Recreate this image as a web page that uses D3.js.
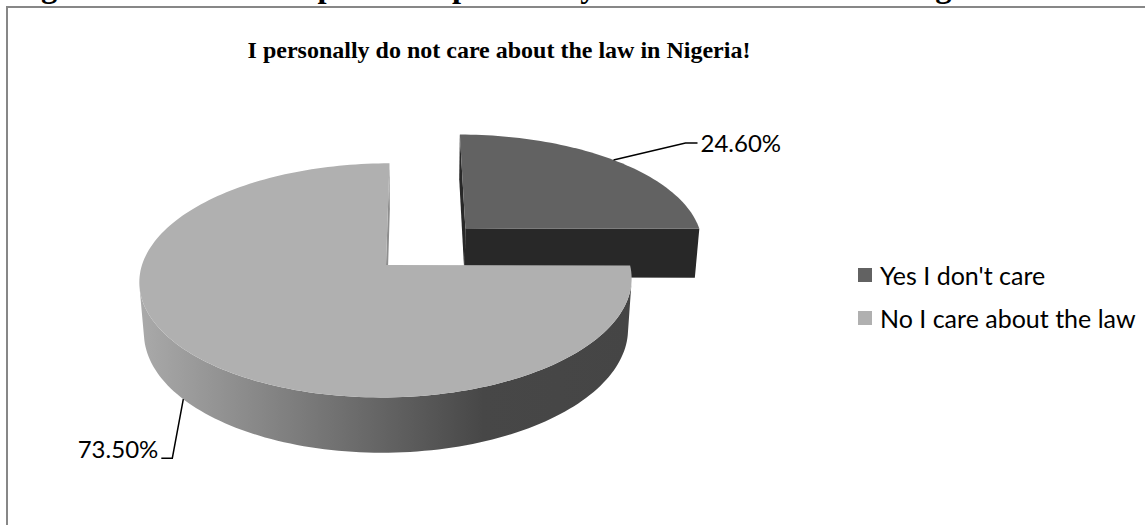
<!DOCTYPE html>
<html>
<head>
<meta charset="utf-8">
<script src="https://cdn.jsdelivr.net/npm/d3@7"></script>
<style>
  html, body { margin: 0; padding: 0; background: #ffffff; }
  svg { display: block; }
</style>
</head>
<body>
<svg id="chart" width="1145" height="525"></svg>
<script>
// ---- data ----
const categories = ["Yes I don't care", "No I care about the law"];
const values = [24.6, 73.5];
const valueLabels = ["24.60%", "73.50%"];
const explodeBy = [115, 0];
const topColors = ["#626262", "#b0b0b0"];
const sideColors = ["#282828", "#8e8e8e"];
const captionText = "Figure 3: Whether respondents personally care about the law in Nigeria";
const titleText = "I personally do not care about the law in Nigeria!";

const W = 1145, H = 525;
const svg = d3.select("#chart");

// ---- 3D view of the pie (perspective projection) ----
const R = 244;          // radius
const T = 58;           // thickness
const sinA = 0.4714, cosA = Math.sqrt(1 - sinA * sinA);
const D = 1637;         // camera distance
const ox = 416, camX = 30, cy0 = 265;

function project(X, Y, Z) {
  const ys = Y * cosA - Z * sinA;
  const zc = Z * cosA + Y * sinA;
  const s = D / (D - zc);
  return [ox + (X - camX) * s, cy0 - ys * s];
}
function facesCamera(X, Y, Z, nX, nY, nZ) {
  const ys = Y * cosA - Z * sinA, zc = Z * cosA + Y * sinA;
  const nys = nY * cosA - nZ * sinA, nzc = nZ * cosA + nY * sinA;
  return nX * (camX - X) + nys * (0 - ys) + nzc * (D - zc) > 0;
}

const arcs = d3.pie().sort(null).value(d => d)(values);
const slices = arcs.map((a, i) => {
  const mid = (a.startAngle + a.endAngle) / 2;
  return {
    i, a0: a.startAngle, a1: a.endAngle, mid,
    dx: explodeBy[i] * Math.sin(mid),
    dz: -explodeBy[i] * Math.cos(mid)
  };
});
function pt(s, r, th, Y) {
  return project(s.dx + r * Math.sin(th), Y, s.dz - r * Math.cos(th));
}
const line = d3.line();

// gradient for the curved wall of the large slice
const defs = svg.append("defs");
const xl = project(-R, 0, 0)[0], xr = project(R, 0, 0)[0];
const grad = defs.append("linearGradient")
  .attr("id", "wallGrad").attr("gradientUnits", "userSpaceOnUse")
  .attr("x1", xl).attr("x2", xr).attr("y1", 0).attr("y2", 0);
grad.append("stop").attr("offset", 0).attr("stop-color", "#a9a9a9");
grad.append("stop").attr("offset", 0.7).attr("stop-color", "#474747");
grad.append("stop").attr("offset", 1).attr("stop-color", "#454545");
const wallFill = ["#2a2a2a", "url(#wallGrad)"];

// frame
svg.append("rect")
  .attr("x", 7).attr("y", 7).attr("width", W + 10).attr("height", H + 10)
  .attr("fill", "none").attr("stroke", "#878787").attr("stroke-width", 2);

// caption line of the page above the chart
svg.append("text")
  .attr("x", 12).attr("y", -3)
  .attr("font-family", "'Liberation Serif', 'Times New Roman', serif")
  .attr("font-weight", "bold").attr("font-size", 32.5).attr("fill", "#000")
  .text(captionText);

// chart title
svg.append("text")
  .attr("x", 499).attr("y", 58).attr("text-anchor", "middle")
  .attr("font-family", "'Liberation Serif', 'Times New Roman', serif")
  .attr("font-weight", "bold").attr("font-size", 24).attr("fill", "#000")
  .text(titleText);

const pieG = svg.append("g");
const order = slices.slice().sort((a, b) => a.dz - b.dz);
const N = 240;

order.forEach(s => {
  const g = pieG.append("g");
  // radial faces
  [[s.a0, -1], [s.a1, 1]].forEach(([a, sign]) => {
    const nX = sign * Math.cos(a), nZ = sign * Math.sin(a);
    const mx = s.dx + (R / 2) * Math.sin(a), mz = s.dz - (R / 2) * Math.cos(a);
    if (!facesCamera(mx, -T / 2, mz, nX, 0, nZ)) return;
    const c0 = project(s.dx, 0, s.dz), c1 = project(s.dx, -T, s.dz);
    const pts = [c0, pt(s, R, a, 0), pt(s, R, a, -T), c1];
    g.append("path").attr("d", line(pts) + "Z").attr("fill", sideColors[s.i]);
  });
  // curved outer wall, in visible runs
  const steps = Math.max(2, Math.round(N * (s.a1 - s.a0) / (2 * Math.PI)));
  let run = [];
  const runs = [];
  for (let k = 0; k < steps; k++) {
    const t0 = s.a0 + (s.a1 - s.a0) * k / steps;
    const t1 = s.a0 + (s.a1 - s.a0) * (k + 1) / steps;
    const tm = (t0 + t1) / 2;
    const vis = facesCamera(s.dx + R * Math.sin(tm), -T / 2, s.dz - R * Math.cos(tm),
                            Math.sin(tm), 0, -Math.cos(tm));
    if (vis) {
      if (!run.length) run.push(t0);
      run.push(t1);
    } else if (run.length) { runs.push(run); run = []; }
  }
  if (run.length) runs.push(run);
  runs.forEach(r => {
    const topPts = r.map(t => pt(s, R, t, 0));
    const botPts = r.slice().reverse().map(t => pt(s, R, t, -T));
    g.append("path").attr("d", line(topPts.concat(botPts)) + "Z")
      .attr("fill", wallFill[s.i]);
  });
  // top face
  const topPts = [project(s.dx, 0, s.dz)];
  for (let k = 0; k <= steps; k++) {
    topPts.push(pt(s, R, s.a0 + (s.a1 - s.a0) * k / steps, 0));
  }
  g.append("path").attr("d", line(topPts) + "Z").attr("fill", topColors[s.i]);
});

// value labels with leader lines
const labelFont = "Lato, 'Open Sans', sans-serif";
const labelSize = 24;
// small slice: leader from the top rim at the slice's middle angle
{
  const s = slices[0];
  const p0 = pt(s, R, s.mid, 0);
  const p1 = [p0[0] + 72, p0[1] - 17];
  const p2 = [p1[0] + 12, p1[1]];
  svg.append("path").attr("d", line([p0, p1, p2]))
    .attr("fill", "none").attr("stroke", "#000").attr("stroke-width", 1.5);
  svg.append("text").attr("x", p2[0] + 3).attr("y", p2[1])
    .attr("dominant-baseline", "central")
    .attr("font-family", labelFont).attr("font-size", labelSize).attr("fill", "#000")
    .text(valueLabels[0]);
}
// large slice: leader from the lower rim of the wall
{
  const s = slices[1];
  const p0 = pt(s, R, 230 * Math.PI / 180, -T);
  const p1 = [p0[0] - 11, p0[1] + 59];
  const p2 = [p1[0] - 11, p1[1]];
  svg.append("path").attr("d", line([p0, p1, p2]))
    .attr("fill", "none").attr("stroke", "#000").attr("stroke-width", 1.5);
  svg.append("text").attr("x", p2[0] - 3).attr("y", p2[1])
    .attr("text-anchor", "end")
    .attr("font-family", labelFont).attr("font-size", labelSize).attr("fill", "#000")
    .text(valueLabels[1]);
}

// legend
const legend = svg.append("g").attr("transform", "translate(858,268)");
categories.forEach((c, i) => {
  const row = legend.append("g").attr("transform", `translate(0,${i * 43})`);
  row.append("rect").attr("width", 14).attr("height", 14).attr("fill", topColors[i]);
  row.append("text").attr("x", 22).attr("y", 7)
    .attr("dominant-baseline", "central")
    .attr("font-family", labelFont).attr("font-size", 25).attr("fill", "#000")
    .text(c);
});
</script>
</body>
</html>
